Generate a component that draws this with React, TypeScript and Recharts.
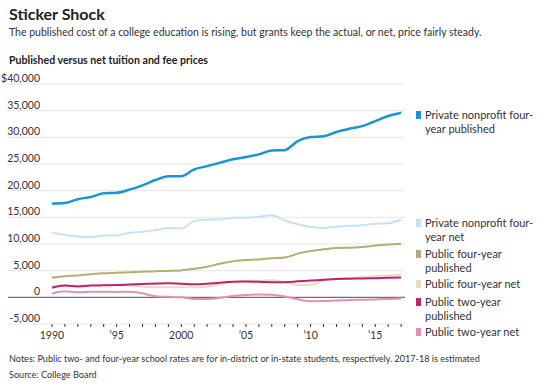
import React from "react";
import { LineChart, Line, XAxis, YAxis, CartesianGrid, ReferenceLine } from "recharts";

const years = [1990, 1991, 1992, 1993, 1994, 1995, 1996, 1997, 1998, 1999, 2000, 2001, 2002, 2003, 2004, 2005, 2006, 2007, 2008, 2009, 2010, 2011, 2012, 2013, 2014, 2015, 2016, 2017];

const privateFourPublished = [17600, 17700, 18400, 18800, 19500, 19600, 20200, 21000, 22000, 22700, 22700, 24000, 24600, 25250, 25900, 26300, 26800, 27550, 27600, 29300, 30050, 30200, 31000, 31600, 32100, 33050, 34000, 34600];
const privateFourNet = [12100, 11700, 11400, 11300, 11600, 11600, 12100, 12300, 12600, 13000, 12900, 14300, 14600, 14600, 14900, 14900, 15100, 15400, 14400, 13700, 13200, 13000, 13250, 13400, 13500, 13800, 13900, 14600];
const publicFourPublished = [3700, 3950, 4100, 4350, 4500, 4600, 4700, 4800, 4900, 4950, 5050, 5350, 5750, 6300, 6750, 7000, 7100, 7350, 7450, 8200, 8700, 9000, 9250, 9300, 9450, 9700, 9900, 10050];
const publicFourNet = [2100, 2200, 2200, 2300, 2300, 2300, 2200, 2000, 1900, 1900, 1900, 1900, 2000, 2400, 2900, 3100, 3100, 3200, 2900, 2300, 2300, 3200, 3500, 3600, 3800, 3950, 4100, 4250];
const publicTwoPublished = [1800, 2200, 2050, 2200, 2250, 2300, 2400, 2500, 2600, 2650, 2550, 2450, 2550, 2750, 2900, 2950, 2900, 2850, 2850, 3000, 3150, 3300, 3450, 3500, 3550, 3600, 3650, 3700];
const publicTwoNet = [700, 1150, 950, 1050, 1050, 1000, 1050, 750, 200, 100, 0, -300, -300, -100, 250, 450, 550, 500, 150, -350, -750, -700, -600, -500, -450, -400, -300, -200];

const yTicks = [-5000, 0, 5000, 10000, 15000, 20000, 25000, 30000, 35000, 40000];
const yTickLabels = ["-5,000", "0", "5,000", "10,000", "15,000", "20,000", "25,000", "30,000", "35,000", "$40,000"];
const xLabelYears = [1990, 1995, 2000, 2005, 2010, 2015];
const xLabels = ["1990", "\u201995", "2000", "\u201905", "\u201910", "\u201915"];

const seriesNames = [
  "Private nonprofit four-year published",
  "Private nonprofit four-year net",
  "Public four-year published",
  "Public four-year net",
  "Public two-year published",
  "Public two-year net",
];
const legendLines = [
  ["Private nonprofit four-", "year published"],
  ["Private nonprofit four-", "year net"],
  ["Public four-year", "published"],
  ["Public four-year net"],
  ["Public two-year", "published"],
  ["Public two-year net"],
];
const legendY = [115, 223, 254, 284, 302, 332];
const colors = ["#1b94d6", "#c8e1f5", "#b7ad74", "#e3dfc4", "#c2226c", "#e48fb6"];
const widths = [2.5, 2, 2, 2, 2, 2];
const keys = ["pfp", "pfn", "ufp", "ufn", "utp", "utn"];

const data = years.map((year, i) => ({
  year,
  pfp: privateFourPublished[i],
  pfn: privateFourNet[i],
  ufp: publicFourPublished[i],
  ufn: publicFourNet[i],
  utp: publicTwoPublished[i],
  utn: publicTwoNet[i],
}));

const FONT = "Lato, 'Open Sans', sans-serif";

const renderYTick = (props: any) => {
  const { y, payload } = props;
  const idx = yTicks.indexOf(payload.value);
  return (
    <text key={payload.value} x={40} y={y - 2} textAnchor="end" fontSize={10.5} fill="#333" fontFamily={FONT}>
      {yTickLabels[idx]}
    </text>
  );
};

const xFmt = (v: number) => {
  const i = xLabelYears.indexOf(v);
  return i >= 0 ? xLabels[i] : "";
};

export default function App() {
  return (
    <div style={{ position: "absolute", left: 0, top: 0, width: 550, height: 386, background: "#fff", fontFamily: FONT }}>
      <LineChart
        width={550}
        height={386}
        data={data}
        margin={{ top: 84, right: 145, bottom: 32, left: -32 }}
      >
        <CartesianGrid vertical={false} stroke="#e6e6e6" strokeWidth={1} />
        <XAxis
          dataKey="year"
          type="number"
          domain={[1986.6, 2017.3]}
          ticks={years}
          interval={0}
          tickFormatter={xFmt}
          axisLine={false}
          tickLine={{ stroke: "#333" }}
          tickSize={3}
          tickMargin={5}
          height={30}
          tick={{ fontSize: 10.5, fill: "#333", fontFamily: FONT }}
        />
        <YAxis
          type="number"
          domain={[-5000, 40000]}
          ticks={yTicks}
          interval={0}
          width={40}
          axisLine={false}
          tickLine={false}
          tick={renderYTick}
        />
        <ReferenceLine y={0} stroke="#555" strokeWidth={1} />
        {keys.map((k, i) => (
          <Line
            key={k}
            name={seriesNames[i]}
            dataKey={k}
            type="monotone"
            stroke={colors[i]}
            strokeWidth={widths[i]}
            dot={false}
            isAnimationActive={false}
          />
        ))}
      </LineChart>
      <svg width={550} height={386} style={{ position: "absolute", left: 0, top: 0, pointerEvents: "none" }}>
        <text x={9} y={20} fontSize={16} fontWeight={700} fill="#222" fontFamily={FONT}>Sticker Shock</text>
        <text x={9} y={36} fontSize={10.5} fill="#333" fontFamily={FONT}>
          The published cost of a college education is rising, but grants keep the actual, or net, price fairly steady.
        </text>
        <text x={9} y={64} fontSize={10.6} fontWeight={700} fill="#222" fontFamily={FONT}>
          Published versus net tuition and fee prices
        </text>
        {legendLines.map((lines, i) => (
          <g key={i}>
            <rect x={416} y={legendY[i] - 4} width={5} height={8} fill={colors[i]} />
            {lines.map((ln, j) => (
              <text key={j} x={425} y={legendY[i] + 4 + j * 14} fontSize={11} fill="#333" fontFamily={FONT}>
                {ln}
              </text>
            ))}
          </g>
        ))}
        <text x={9} y={361.5} fontSize={9.1} fill="#333" fontFamily={FONT}>
          Notes: Public two- and four-year school rates are for in-district or in-state students, respectively. 2017-18 is estimated
        </text>
        <text x={9} y={377.5} fontSize={9.1} fill="#333" fontFamily={FONT}>Source: College Board</text>
      </svg>
    </div>
  );
}
